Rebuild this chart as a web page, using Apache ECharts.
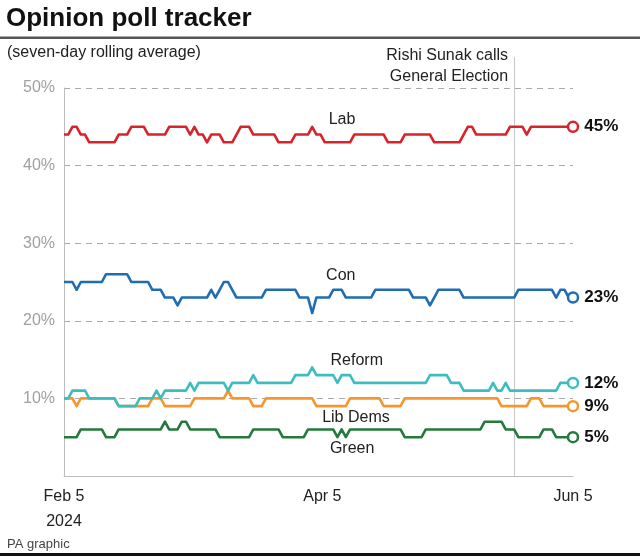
<!DOCTYPE html>
<html><head><meta charset="utf-8">
<script src="https://cdn.jsdelivr.net/npm/echarts@6/dist/echarts.min.js"></script>
<style>html,body{margin:0;padding:0;background:#fff}#c{width:640px;height:559px}</style>
</head><body><div id="c"></div>
<script>
// ---- data (daily seven-day rolling average, Feb 5 – Jun 5 2024) ----
const lab = [
44,44,45,45,44,44,43,43,43,43,
43,43,43,44,44,44,45,45,45,45,
44,44,44,44,44,45,45,45,45,45,
44,45,44,44,43,44,44,44,43,43,
43,44,45,45,45,44,44,44,44,44,
44,43,43,43,43,44,44,44,44,45,
44,44,43,43,43,43,43,43,43,44,
44,44,44,44,44,44,44,43,43,43,
43,44,44,44,44,44,44,44,43,43,
43,43,43,43,43,44,45,45,44,44,
44,44,44,44,44,44,45,45,45,45,
44,45,45,45,45,45,45,45,45,45,
45,45];
const con = [
25,25,25,24,25,25,25,25,25,25,
26,26,26,26,26,26,25,25,25,25,
25,24,24,24,23,23,23,22,23,23,
23,23,23,23,23,24,23,24,25,25,
24,23,23,23,23,23,23,23,24,24,
24,24,24,24,24,24,23,23,23,21,
23,23,23,23,24,24,24,23,23,23,
23,23,23,23,24,24,24,24,24,24,
24,24,24,23,23,23,23,22,23,24,
24,24,24,24,24,23,23,23,23,23,
23,23,23,23,23,23,23,23,24,24,
24,24,24,24,24,24,24,23,24,24,
23,23];
const reform = [
10,10,11,11,11,11,10,10,10,10,
10,10,10,9,9,9,9,9,10,10,
10,10,11,10,11,11,11,11,11,11,
12,11,12,12,12,12,12,12,12,11,
12,12,12,12,12,13,12,12,12,12,
12,12,12,12,12,13,13,13,13,14,
13,13,13,13,13,12,13,13,13,12,
12,12,12,12,12,12,12,12,12,12,
12,12,12,12,12,12,12,13,13,13,
13,13,12,12,12,11,11,11,11,11,
11,11,12,11,11,12,11,11,11,11,
11,11,11,11,11,11,11,11,12,12,
12,12];
const libDems = [
10,10,10,9,10,10,10,10,10,10,
10,10,10,9,9,9,9,9,9,9,
9,10,10,10,9,9,9,9,9,9,
9,10,10,10,10,10,10,10,10,11,
10,10,10,10,10,9,9,9,10,10,
10,10,10,10,10,10,10,10,10,10,
9,9,9,9,9,9,9,9,10,10,
10,10,10,10,10,10,9,9,9,9,
9,10,10,10,10,10,10,10,10,10,
10,10,10,10,10,10,10,10,10,10,
10,10,10,10,9,9,9,9,9,9,
9,10,10,10,9,9,9,9,9,9,
9,9];
const green = [
5,5,5,5,6,6,6,6,6,6,
5,5,5,6,6,6,6,6,6,6,
6,6,6,6,7,6,6,6,7,7,
6,6,6,6,6,6,6,5,5,5,
5,5,5,5,5,6,6,6,6,6,
6,6,5,5,5,5,5,5,6,6,
6,6,6,6,6,5,6,5,6,6,
6,6,6,6,6,6,6,6,6,6,
6,5,5,5,5,5,6,6,6,6,
6,6,6,6,6,6,6,6,6,6,
7,7,7,7,7,6,6,6,5,5,
5,5,5,5,6,6,6,5,5,5,
5,5];

const seriesNames = ['Green','Lib Dems','Reform','Con','Lab'];
const seriesColors = ['#237a3b','#f7962e','#3dbdbf','#1f6db3','#d8232a'];
const seriesData = [green, libDems, reform, con, lab];
// in-chart name labels: [day index (fractional), value]
const nameLabelPos = [[68.5,3.5],[69.4,7.5],[69.6,14.9],[65.8,25.8],[66.1,45.9]];

const xTickLabels = {'2024-02-05':'Feb 5\n2024','2024-04-05':'Apr 5','2024-06-05':'Jun 5'};
const electionDate = '2024-05-22';
const electionText = 'Rishi Sunak calls\nGeneral Election';

const dates = [];
for (let i = 0; i < lab.length; i++) {
  const d = new Date(Date.UTC(2024, 1, 5 + i));
  dates.push(d.toISOString().slice(0, 10));
}

const FF = 'Liberation Sans';
const chart = echarts.init(document.getElementById('c'), null, {renderer:'canvas'});

function mkSeries(name, data, color) {
  const last = data.length - 1;
  return {
    name, type: 'line', color: color,
    showSymbol: true, showAllSymbol: true, symbol: 'none',
    lineStyle: {color: color, width: 2.6, join: 'round'},
    emphasis: {disabled: true}, silent: true, animation: false,
    data: data.map((v, i) => i === last ? {
      value: v, symbol: 'circle', symbolSize: 10,
      itemStyle: {color: '#fff', borderColor: color, borderWidth: 2.5},
      label: {show: true, position: 'right', distance: 5, formatter: v + '%',
        color: '#111', fontSize: 17, fontWeight: 'bold', fontFamily: FF}
    } : v)
  };
}

const option = {
  animation: false,
  textStyle: {fontFamily: FF},
  grid: {left: 64, right: 67, top: 88, bottom: 83},
  xAxis: {
    type: 'category', data: dates, boundaryGap: false,
    axisLine: {lineStyle: {color: '#bdbdbd', width: 1}},
    axisTick: {show: false},
    axisLabel: {
      interval: (idx, val) => xTickLabels[val] !== undefined,
      formatter: val => val === '2024-04-05' ? '{s|' + xTickLabels[val] + '}' : (xTickLabels[val] || ''),
      rich: {s: {padding: [0, 0, 0, 12], fontSize: 16, color: '#222', fontFamily: FF}},
      color: '#222', fontSize: 16, lineHeight: 25, margin: 8, fontFamily: FF,
      showMaxLabel: true, hideOverlap: false
    },
    splitLine: {show: false}
  },
  yAxis: {
    type: 'value', min: 0, max: 50, interval: 10,
    axisLine: {show: true, lineStyle: {color: '#bdbdbd', width: 1}},
    axisTick: {show: false},
    axisLabel: {formatter: v => v === 0 ? '' : v + '%', color: '#a0a0a0', fontSize: 16, margin: 9, fontFamily: FF},
    splitLine: {show: true, lineStyle: {color: '#aaaaaa', type: [6, 5], width: 1}}
  },
  series: seriesData.map((d, i) => mkSeries(seriesNames[i], d, seriesColors[i]))
};
chart.setOption(option);

const graphics = [];
graphics.push({type: 'text', left: 6, top: 6, style: {text: 'Opinion poll tracker', fontSize: 26, fontWeight: 'bold', fill: '#111', fontFamily: FF}});
graphics.push({type: 'rect', shape: {x: 0, y: 36.5, width: 640, height: 2.5}, style: {fill: '#555'}});
graphics.push({type: 'text', left: 7, top: 45, style: {text: '(seven-day rolling average)', fontSize: 16, fill: '#222', fontFamily: FF}});
graphics.push({type: 'text', left: 7, top: 538, style: {text: 'PA graphic', fontSize: 13, fill: '#444', fontFamily: FF}});
graphics.push({type: 'rect', shape: {x: 0, y: 553, width: 640, height: 3}, style: {fill: '#111'}});

// election line
const ex = chart.convertToPixel({gridIndex: 0}, [electionDate, 0]);
graphics.push({type: 'line', shape: {x1: Math.round(ex[0]) + 0.5, y1: 57, x2: Math.round(ex[0]) + 0.5, y2: ex[1]}, style: {stroke: '#c8c8c8', lineWidth: 1}, z: 1});
graphics.push({type: 'text', x: ex[0] - 6, y: 45, style: {text: electionText, fontSize: 16, lineHeight: 21, fill: '#222', align: 'right', verticalAlign: 'top', fontFamily: FF}});

// series name labels (interpolated between neighbouring category positions)
nameLabelPos.forEach((p, i) => {
  const i0 = Math.floor(p[0]), f = p[0] - i0;
  const a = chart.convertToPixel({gridIndex: 0}, [dates[i0], p[1]]);
  const b = chart.convertToPixel({gridIndex: 0}, [dates[i0 + 1], p[1]]);
  graphics.push({type: 'text', x: a[0] + f * (b[0] - a[0]), y: a[1], style: {text: seriesNames[i], fontSize: 16, fill: '#222', align: 'center', verticalAlign: 'middle', fontFamily: FF}, z: 10});
});

chart.setOption({graphic: graphics});
</script>
</body></html>
